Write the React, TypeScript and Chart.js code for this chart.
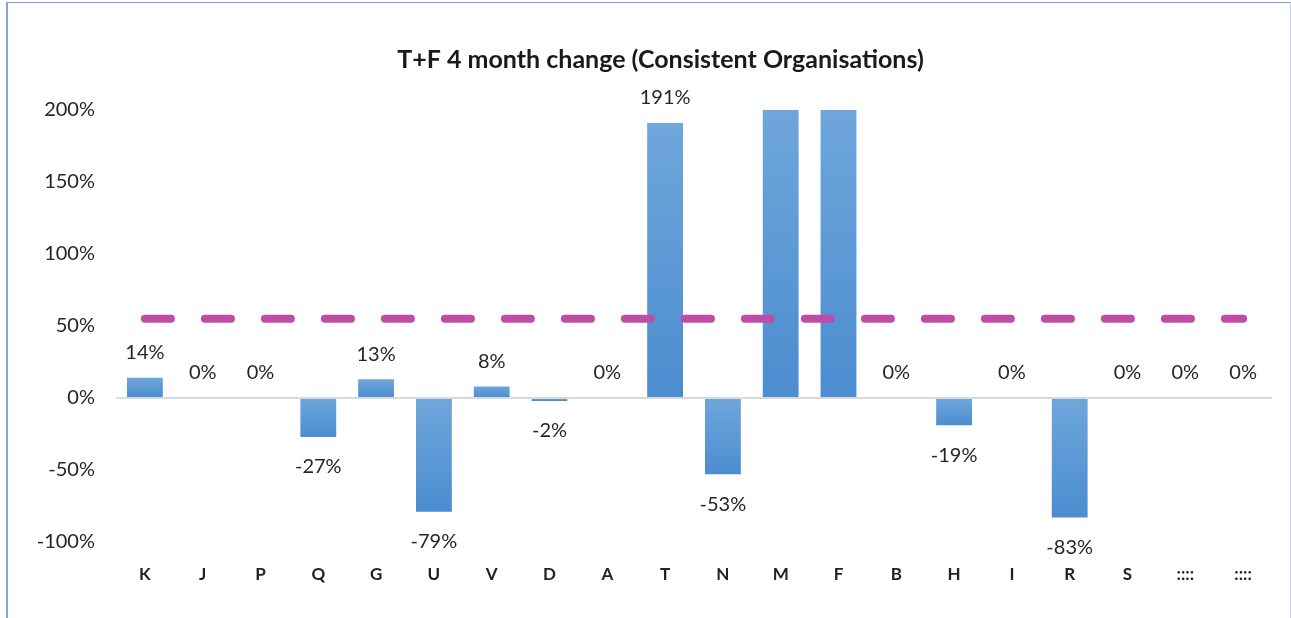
import React, { useEffect, useRef } from "react";
import { Chart, registerables } from "chart.js";

Chart.register(...registerables);

const categories = ["K", "J", "P", "Q", "G", "U", "V", "D", "A", "T", "N", "M", "F", "B", "H", "I", "R", "S", "::::", "::::"];
const changeValues = [14, 0, 0, -27, 13, -79, 8, -2, 0, 191, -53, 250, 240, 0, -19, 0, -83, 0, 0, 0];
const averageValues = [55, 55, 55, 55, 55, 55, 55, 55, 55, 55, 55, 55, 55, 55, 55, 55, 55, 55, 55, 55];
const yTicks = [-100, -50, 0, 50, 100, 150, 200];
const titleText = "T+F 4 month change (Consistent Organisations)";

const FONT = "Lato, 'Open Sans', sans-serif";
const Y_MIN = -100;
const Y_MAX = 200;

const labelPlugin = {
  id: "barLabels",
  afterDatasetsDraw(chart: any) {
    const meta = chart.getDatasetMeta(1);
    const ctx = chart.ctx;
    ctx.save();
    ctx.font = `20px ${FONT}`;
    ctx.fillStyle = "#262626";
    ctx.textAlign = "center";
    ctx.textBaseline = "middle";
    meta.data.forEach((bar: any, i: number) => {
      const v = changeValues[i];
      if (v > Y_MAX || v < Y_MIN) return;
      const text = `${v}%`;
      if (v >= 0) {
        ctx.fillText(text, bar.x, bar.y - 25);
      } else {
        ctx.fillText(text, bar.x, bar.y + 30);
      }
    });
    ctx.restore();
  },
};

const titlePlugin = {
  id: "customTitle",
  afterDraw(chart: any) {
    const ctx = chart.ctx;
    ctx.save();
    ctx.font = `bold 25px ${FONT}`;
    ctx.fillStyle = "#1A1A1A";
    ctx.textAlign = "center";
    ctx.textBaseline = "middle";
    ctx.fillText(titleText, chart.width / 2 + 15, 60);
    ctx.restore();
  },
};

export default function App() {
  const canvasRef = useRef<HTMLCanvasElement>(null);

  useEffect(() => {
    if (!canvasRef.current) return;
    const chart = new Chart(canvasRef.current, {
      type: "bar",
      data: {
        labels: categories,
        datasets: [
          {
            type: "line",
            label: "Average",
            data: averageValues,
            borderColor: "#BE4DA6",
            borderWidth: 8,
            borderDash: [26, 34],
            borderCapStyle: "round",
            pointRadius: 0,
            fill: false,
            order: 0,
          } as any,
          {
            type: "bar",
            label: "T+F 4 month change",
            data: changeValues,
            order: 1,
            barPercentage: 1,
            categoryPercentage: 0.62,
            backgroundColor: (c: any) => {
              const ch = c.chart;
              const area = ch.chartArea;
              if (!area || c.type !== "data") return "#5B9BD5";
              const v = c.raw as number;
              const ys = ch.scales.y;
              const y0 = ys.getPixelForValue(0);
              const y1 = ys.getPixelForValue(Math.max(Y_MIN, Math.min(Y_MAX, v)));
              const top = Math.min(y0, y1);
              const bot = Math.max(y0, y1);
              if (bot - top < 1) return "#5B9BD5";
              const g = ch.ctx.createLinearGradient(0, top, 0, bot);
              g.addColorStop(0, "#6FA6DB");
              g.addColorStop(1, "#4B8DD0");
              return g;
            },
          } as any,
        ],
      },
      options: {
        responsive: false,
        animation: false,
        layout: { padding: { left: 0, right: 19, top: 110, bottom: 0 } },
        plugins: {
          legend: { display: false },
          tooltip: { enabled: false },
          title: { display: false },
        },
        scales: {
          x: {
            grid: { display: false, drawTicks: false },
            border: { display: false },
            ticks: {
              color: "#222222",
              font: { family: FONT, size: 17, weight: "bold" },
              padding: 22,
              maxRotation: 0,
              autoSkip: false,
            },
            afterFit: (s: any) => {
              s.height = 76;
            },
          },
          y: {
            min: Y_MIN,
            max: Y_MAX,
            afterBuildTicks: (s: any) => {
              s.ticks = yTicks.map((v) => ({ value: v }));
            },
            grid: {
              drawTicks: false,
              color: (c: any) => (c.tick && c.tick.value === 0 ? "#D9D9D9" : "rgba(0,0,0,0)"),
              lineWidth: 2,
            },
            border: { display: false },
            ticks: {
              color: "#262626",
              font: { family: FONT, size: 20 },
              padding: 21,
              callback: (v: any) => `${v}%`,
            },
            afterFit: (s: any) => {
              s.width = 116;
            },
          },
        },
      },
      plugins: [labelPlugin, titlePlugin],
    });
    return () => chart.destroy();
  }, []);

  return (
    <div style={{ position: "absolute", left: 0, top: 0, width: 1291, height: 618, overflow: "hidden", background: "#FFFFFF" }}>
      <div
        style={{
          position: "absolute",
          left: 6,
          top: 2,
          width: 1282,
          height: 700,
          borderLeft: "2px solid #8EA1D1",
          borderTop: "1px solid #8298CE",
          borderRight: "1px solid #C9CDE9",
        }}
      />
      <canvas ref={canvasRef} width={1291} height={618} style={{ position: "absolute", left: 0, top: 0 }} />
    </div>
  );
}
